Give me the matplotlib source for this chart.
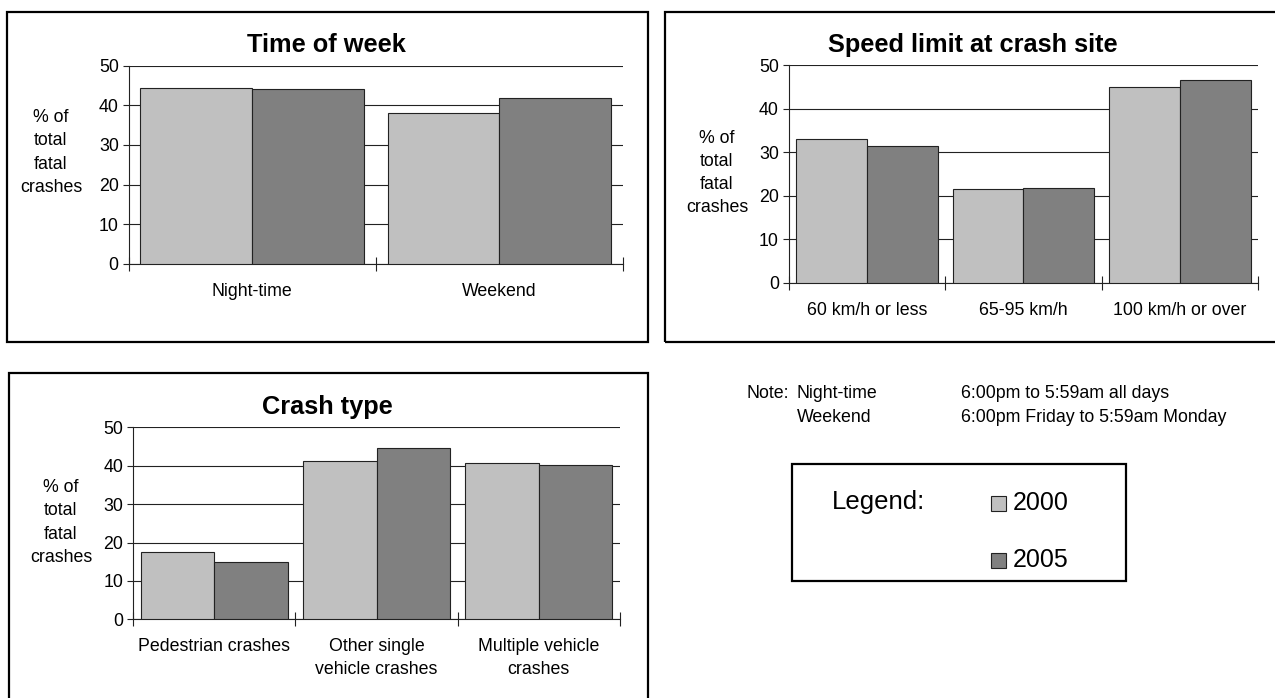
import matplotlib
matplotlib.use('Agg')
import matplotlib.pyplot as plt
from matplotlib.patches import Rectangle

plt.rcParams['font.family'] = ['Liberation Sans', 'DejaVu Sans']

# ================= data =================
years = ["2000", "2005"]
colors = ["#c0c0c0", "#808080"]

week_cats = ["Night-time", "Weekend"]
week_2000 = [44.4, 38.0]
week_2005 = [44.0, 41.8]

speed_cats = ["60 km/h or less", "65-95 km/h", "100 km/h or over"]
speed_2000 = [33.1, 21.6, 45.1]
speed_2005 = [31.5, 21.8, 46.7]

type_cats = ["Pedestrian crashes", "Other single\nvehicle crashes", "Multiple vehicle\ncrashes"]
type_2000 = [17.5, 41.3, 40.8]
type_2005 = [14.8, 44.7, 40.3]

y_ticks = [0, 10, 20, 30, 40, 50]
ylabel = "% of\ntotal\nfatal\ncrashes"

W, H = 1275, 698
SMALL = 12.8
BAR_W = 0.4525
LSP = 1.47

fig = plt.figure(figsize=(W / 100, H / 100), dpi=100)
fig.patch.set_facecolor("white")


def fx(x):
    return x / W


def fy(y):
    return 1 - y / H


def box(x0, y0, x1, y1):
    fig.patches.append(Rectangle((fx(x0), fy(y1)), fx(x1) - fx(x0), fy(y0) - fy(y1),
                                 transform=fig.transFigure, fill=False,
                                 edgecolor="black", lw=1.6, zorder=0))


def panel(left, right, top, bottom, cats, v0, v1, title, title_xy, ylab_xy):
    ax = fig.add_axes([fx(left), fy(bottom), fx(right) - fx(left), fy(top) - fy(bottom)])
    n = len(cats)
    centers = [i + 0.5 for i in range(n)]
    ax.bar([c - BAR_W / 2 for c in centers], v0, width=BAR_W, color=colors[0],
           edgecolor="#222222", lw=0.8, zorder=3)
    ax.bar([c + BAR_W / 2 for c in centers], v1, width=BAR_W, color=colors[1],
           edgecolor="#222222", lw=0.8, zorder=3)
    ax.set_xlim(0, n)
    ax.set_ylim(0, 50)
    ax.set_yticks(y_ticks)
    ax.set_xticks(range(n + 1))
    ax.set_xticklabels([])
    ax.tick_params(axis="x", direction="inout", length=9.5, width=0.8, color="#222222")
    ax.tick_params(axis="y", direction="out", length=4.5, width=0.8, pad=2.6,
                   labelsize=SMALL, color="#222222")
    ax.yaxis.grid(True, color="#222222", lw=0.8)
    ax.set_axisbelow(True)
    for s in ["top", "right"]:
        ax.spines[s].set_visible(False)
    for s in ["left", "bottom"]:
        ax.spines[s].set_linewidth(0.8)
        ax.spines[s].set_color("#222222")
    for c, lab in zip(centers, cats):
        nl = lab.count("\n")
        off = 27.4 + nl * 23.3 / 2
        ax.annotate(lab, xy=(c, 0), xycoords=("data", "axes fraction"),
                    xytext=(0, -off), textcoords="offset pixels",
                    ha="center", va="center", fontsize=SMALL, linespacing=LSP)
    fig.text(fx(title_xy[0]), fy(title_xy[1]), title, ha="center", va="center",
             fontsize=18.3, fontweight="bold")
    fig.text(fx(ylab_xy[0]), fy(ylab_xy[1]), ylabel, ha="center", va="center",
             fontsize=SMALL, linespacing=LSP, multialignment="center")
    return ax


# panel frames
box(7, 12, 648, 342)
box(665, 12, 1285, 342)
box(9, 373, 648, 710)

panel(128.6, 623, 65.5, 264, week_cats, week_2000, week_2005,
      "Time of week", (326, 45), (51, 152.5))
panel(788.7, 1258, 65.3, 282.7, speed_cats, speed_2000, speed_2005,
      "Speed limit at crash site", (973, 45), (717, 173))
panel(133, 620, 427.3, 619.3, type_cats, type_2000, type_2005,
      "Crash type", (327, 406.7), (61, 522.5))

# note
fig.text(fx(746), fy(393), "Note:", ha="left", va="center", fontsize=SMALL)
fig.text(fx(797), fy(393), "Night-time", ha="left", va="center", fontsize=SMALL)
fig.text(fx(961), fy(393), "6:00pm to 5:59am all days", ha="left", va="center", fontsize=SMALL)
fig.text(fx(797), fy(417.7), "Weekend", ha="left", va="center", fontsize=SMALL)
fig.text(fx(961), fy(417.7), "6:00pm Friday to 5:59am Monday", ha="left", va="center", fontsize=SMALL)

# legend block
box(792, 464, 1126, 581)
fig.text(fx(832), fy(502), "Legend:", ha="left", va="center", fontsize=18.5)
for yr, col, yc in zip(years, colors, [503, 560]):
    fig.patches.append(Rectangle((fx(991), fy(yc + 7.5)), fx(15), 15 / H,
                                 transform=fig.transFigure, facecolor=col,
                                 edgecolor="#222222", lw=0.8))
    fig.text(fx(1013), fy(yc), yr, ha="left", va="center", fontsize=18)

fig.savefig("out.png", dpi=100, facecolor="white")
